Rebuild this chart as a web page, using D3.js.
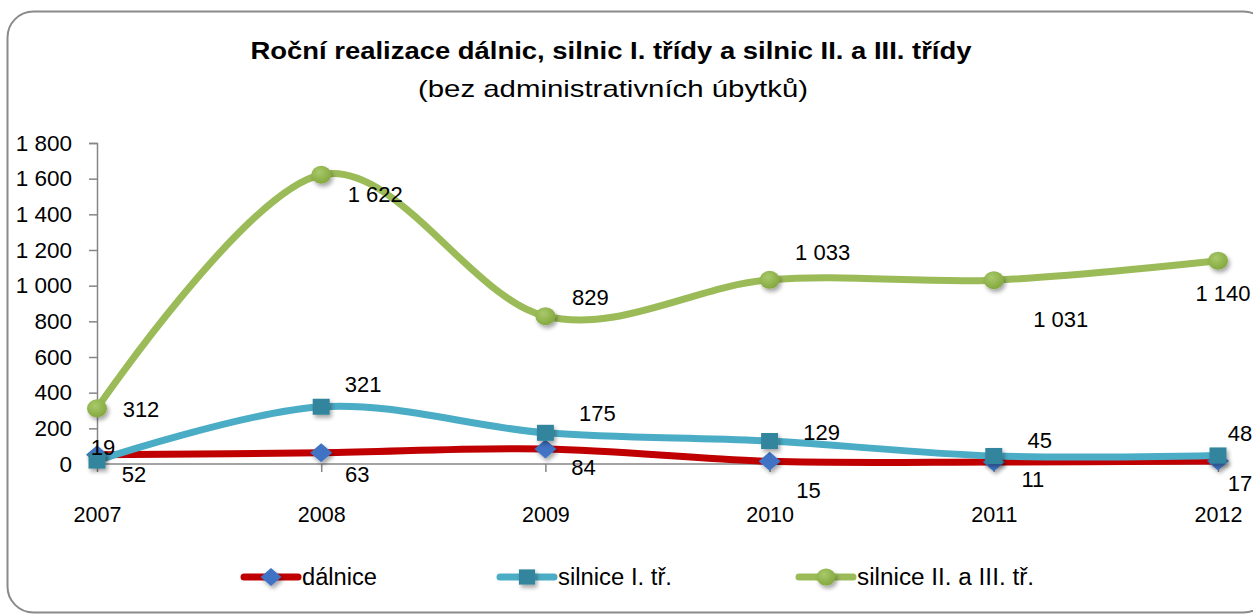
<!DOCTYPE html>
<html><head><meta charset="utf-8">
<script src="https://cdn.jsdelivr.net/npm/d3@7"></script>
<style>
html,body{margin:0;padding:0;background:#fff;}
svg text{font-family:"Liberation Sans",Arial,sans-serif;fill:#000;}
</style></head>
<body><svg id="c" width="1253" height="616"></svg>
<script>
// ---- data ----
const years = ["2007","2008","2009","2010","2011","2012"];
const dalnice = [52, 63, 84, 15, 11, 17];
const silniceI = [19, 321, 175, 129, 45, 48];
const silniceII = [312, 1622, 829, 1033, 1031, 1140];
const seriesNames = ["dálnice", "silnice I. tř.", "silnice II. a III. tř."];
const yTicks = [0, 200, 400, 600, 800, 1000, 1200, 1400, 1600, 1800];
const titleText = "Roční realizace dálnic, silnic I. třídy a silnic II. a III. třídy";
const subtitleText = "(bez administrativních úbytků)";

// label placement (pixel offsets of label centre from its point, hand-placed as in original)
const dalniceLabelOff = [[37,19],[36,21],[38,18],[39,29],[39,17],[22,22]];
const silniceILabelOff = [[6,-14],[42,-23],[52,-20],[52,-9],[46,-16],[22,-22]];
const silniceIILabelOff = [[44,1],[54,19],[45,-19],[53,-28],[67,39],[5,32]];
const legendTextWidths = [75, 114, 177];

const svg = d3.select("#c");
const fmt = v => d3.format(",")(v).replace(/,/g, "\u00a0");

// filter for marker shadows
const defs = svg.append("defs");
const f = defs.append("filter").attr("id","sh").attr("x","-50%").attr("y","-50%").attr("width","200%").attr("height","200%");
f.append("feGaussianBlur").attr("in","SourceAlpha").attr("stdDeviation",2).attr("result","b");
f.append("feOffset").attr("in","b").attr("dx",2).attr("dy",3).attr("result","o");
f.append("feComponentTransfer").attr("in","o").attr("result","o2").append("feFuncA").attr("type","linear").attr("slope",0.35);
const fm = f.append("feMerge"); fm.append("feMergeNode").attr("in","o2"); fm.append("feMergeNode").attr("in","SourceGraphic");

const gr = defs.append("radialGradient").attr("id","gball").attr("cx","40%").attr("cy","35%").attr("r","65%");
gr.append("stop").attr("offset","0%").attr("stop-color","#a9c96a");
gr.append("stop").attr("offset","100%").attr("stop-color","#84a83f");

// frame
svg.append("rect").attr("x",7.5).attr("y",11.5).attr("width",1262).attr("height",601)
  .attr("rx",26).attr("ry",26).attr("fill","#fff").attr("stroke","#8a8a8a").attr("stroke-width",2);

// title
svg.append("text").attr("x",611).attr("y",59).attr("text-anchor","middle")
  .attr("font-weight","bold").attr("font-size",23)
  .attr("textLength",721).attr("lengthAdjust","spacingAndGlyphs").text(titleText);
svg.append("text").attr("x",613).attr("y",97).attr("text-anchor","middle")
  .attr("font-size",24)
  .attr("textLength",390).attr("lengthAdjust","spacingAndGlyphs").text(subtitleText);

// scales
const x = d3.scalePoint().domain(years).range([97, 1218]);
const y = d3.scaleLinear().domain([0, 1800]).range([464, 143]);

// y axis
const yAxis = svg.append("g").attr("transform","translate(97,0)")
  .call(d3.axisLeft(y).tickValues(yTicks).tickFormat(fmt).tickSize(8).tickPadding(17));
yAxis.select(".domain").attr("stroke","#868686").attr("stroke-width",1.5);
yAxis.selectAll(".tick line").attr("stroke","#868686").attr("stroke-width",1.5);
yAxis.selectAll("text").attr("font-size",22.5).attr("font-family","Liberation Sans, Arial, sans-serif").attr("fill","#000");

// x axis
const xAxis = svg.append("g").attr("transform","translate(0,464)")
  .call(d3.axisBottom(x).tickSize(8).tickPadding(35).tickSizeOuter(0));
xAxis.select(".domain").attr("stroke","#868686").attr("stroke-width",1.5).attr("d","M97,0H1218");
xAxis.selectAll(".tick line").attr("stroke","#868686").attr("stroke-width",1.5);
xAxis.selectAll("text").attr("font-size",21.5).attr("font-family","Liberation Sans, Arial, sans-serif").attr("fill","#000");

const line = d3.line().x((d,i)=>x(years[i])).y(d=>y(d)).curve(d3.curveCardinal.tension(0));

const series = [
  {vals: dalnice, color:"#C00000", mcolor:"#3F73C3", shape:"diamond", off: dalniceLabelOff},
  {vals: silniceI, color:"#4BACC6", mcolor:"#31859C", shape:"square", off: silniceILabelOff},
  {vals: silniceII, color:"#9BBB59", mcolor:"url(#gball)", shape:"circle", off: silniceIILabelOff}
];

function drawMarker(g, shape, color, cx, cy, scale){
  scale = scale || 1;
  if(shape==="diamond"){
    const w=11*scale, h=9.5*scale;
    g.append("path").attr("d",`M${cx},${cy-h}L${cx+w},${cy}L${cx},${cy+h}L${cx-w},${cy}Z`)
      .attr("fill",color).attr("filter","url(#sh)");
  } else if(shape==="square"){
    const w=8.5*scale, h=8*scale;
    g.append("rect").attr("x",cx-w).attr("y",cy-h).attr("width",2*w).attr("height",2*h)
      .attr("fill",color).attr("filter","url(#sh)");
  } else {
    g.append("ellipse").attr("cx",cx).attr("cy",cy).attr("rx",10*scale).attr("ry",9*scale)
      .attr("fill",color).attr("filter","url(#sh)");
  }
}

const plot = svg.append("g");
series.forEach(s=>{
  plot.append("path").attr("d", line(s.vals)).attr("fill","none")
    .attr("stroke", s.color).attr("stroke-width",7).attr("stroke-linecap","round");
});
series.forEach(s=>{
  s.vals.forEach((v,i)=> drawMarker(plot, s.shape, s.mcolor, x(years[i]), y(v)));
});
series.forEach(s=>{
  s.vals.forEach((v,i)=>{
    plot.append("text").attr("x", x(years[i]) + s.off[i][0]).attr("y", y(v) + s.off[i][1] + 8)
      .attr("text-anchor","middle").attr("font-size",22).text(fmt(v));
  });
});

// legend
const legendX = [271, 527, 826];
const leg = svg.append("g");
series.forEach((s,i)=>{
  const cx = legendX[i], cy = 577;
  leg.append("line").attr("x1",cx-27).attr("x2",cx+27).attr("y1",cy).attr("y2",cy)
    .attr("stroke",s.color).attr("stroke-width",7).attr("stroke-linecap","round");
  drawMarker(leg, s.shape, s.mcolor, cx, cy, 0.95);
  leg.append("text").attr("x",cx+31).attr("y",cy+8).attr("font-size",23)
    .attr("textLength",legendTextWidths[i]).attr("lengthAdjust","spacingAndGlyphs").text(seriesNames[i]);
});
</script></body></html>
